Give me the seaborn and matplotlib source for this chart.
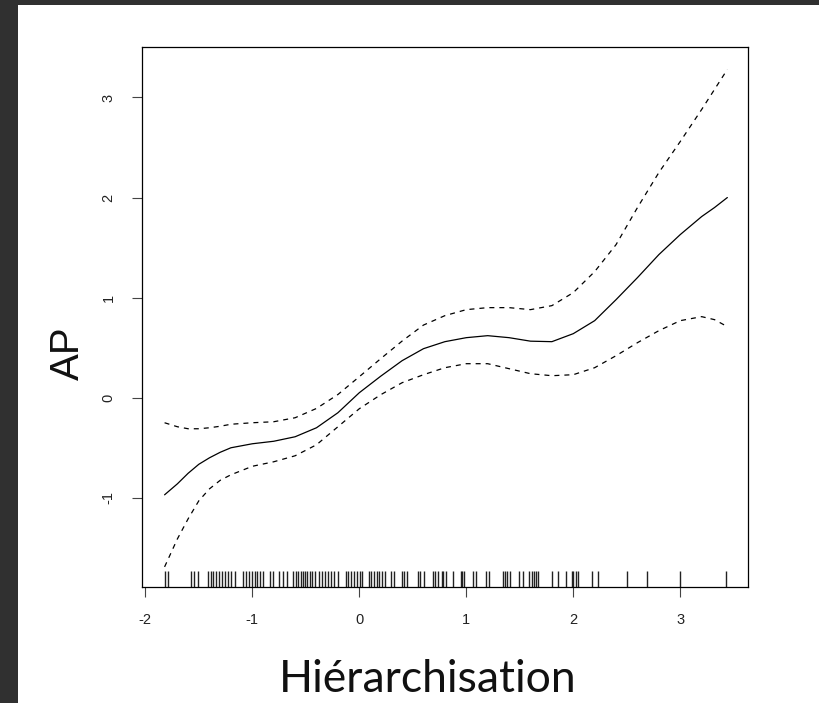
import numpy as np
import pandas as pd
import matplotlib
matplotlib.use("Agg")
import matplotlib.pyplot as plt
import seaborn as sns
from matplotlib.patches import Rectangle

# smooth term
x_grid = [-1.82, -1.7, -1.6, -1.5, -1.4, -1.3, -1.2, -1.0, -0.8, -0.6, -0.4, -0.2, 0.0, 0.2,
          0.4, 0.6, 0.8, 1.0, 1.2, 1.4, 1.6, 1.8, 2.0, 2.2, 2.4, 2.6, 2.8, 3.0, 3.2, 3.32, 3.44]
fit = [-0.97, -0.86, -0.755, -0.665, -0.60, -0.545, -0.50, -0.46, -0.435, -0.39, -0.30, -0.15,
       0.05, 0.215, 0.37, 0.49, 0.56, 0.60, 0.62, 0.60, 0.565, 0.56, 0.64, 0.77, 0.98, 1.20,
       1.43, 1.63, 1.81, 1.90, 2.00]
upper = [-0.25, -0.29, -0.31, -0.31, -0.30, -0.285, -0.265, -0.25, -0.24, -0.20, -0.107, 0.032,
         0.21, 0.39, 0.566, 0.726, 0.82, 0.88, 0.90, 0.90, 0.88, 0.92, 1.05, 1.26, 1.53, 1.90,
         2.25, 2.56, 2.88, 3.08, 3.28]
lower = [-1.69, -1.41, -1.21, -1.03, -0.91, -0.825, -0.77, -0.685, -0.64, -0.58, -0.47, -0.29,
         -0.11, 0.03, 0.15, 0.23, 0.30, 0.34, 0.34, 0.29, 0.24, 0.22, 0.23, 0.30, 0.42, 0.55,
         0.67, 0.77, 0.81, 0.78, 0.71]

# observations (rug)
rug_x = [-1.819, -1.785, -1.570, -1.548, -1.505, -1.414, -1.389, -1.364, -1.339, -1.311,
         -1.286, -1.258, -1.230, -1.199, -1.159, -1.084, -1.059, -1.034, -1.003, -0.978,
         -0.953, -0.925, -0.897, -0.835, -0.804, -0.748, -0.716, -0.679, -0.617, -0.592,
         -0.570, -0.548, -0.526, -0.505, -0.489, -0.461, -0.445, -0.411, -0.379, -0.351,
         -0.321, -0.295, -0.267, -0.234, -0.202, -0.127, -0.103, -0.078, -0.047, -0.021,
         0.009, 0.022, 0.088, 0.112, 0.135, 0.163, 0.184, 0.209, 0.240, 0.296, 0.324,
         0.396, 0.421, 0.446, 0.546, 0.570, 0.605, 0.689, 0.710, 0.738, 0.770, 0.785,
         0.810, 0.879, 0.948, 0.960, 0.979, 1.060, 1.088, 1.181, 1.215, 1.340, 1.362,
         1.383, 1.408, 1.495, 1.527, 1.589, 1.611, 1.633, 1.651, 1.673, 1.798, 1.860,
         1.929, 1.985, 2.000, 2.022, 2.041, 2.172, 2.228, 2.499, 2.686, 2.997, 3.424]

x_ticks = [-2, -1, 0, 1, 2, 3]
y_ticks = [-1, 0, 1, 2, 3]

df = pd.DataFrame({"x": x_grid, "fit": fit, "upper": upper, "lower": lower})

sns.set_style("white")
plt.rcParams["font.family"] = ["Liberation Sans", "DejaVu Sans"]

W, H = 820, 703
fig = plt.figure(figsize=(W / 100, H / 100), dpi=100, facecolor="#303030")
fig.patches.append(Rectangle((18 / W, 0), 1, 1 - 5 / H, transform=fig.transFigure,
                             facecolor="white", edgecolor="none", zorder=-10))

ax = fig.add_axes([142 / W, 1 - 587 / H, (748 - 142) / W, (587 - 47) / H])
ax.set_zorder(5)
ax.set_facecolor("white")

sns.lineplot(data=df, x="x", y="fit", color="black", lw=0.9, sort=False, ax=ax)
sns.lineplot(data=df, x="x", y="upper", color="black", lw=0.9, sort=False,
             linestyle=(0, (4, 4)), ax=ax)
sns.lineplot(data=df, x="x", y="lower", color="black", lw=0.9, sort=False,
             linestyle=(0, (4, 4)), ax=ax)
sns.rugplot(x=rug_x, height=0.03, color="#222222", lw=0.9, ax=ax)

ax.set_xlim(-2.031, 3.633)
ax.set_ylim(-1.891, 3.504)
ax.set_xticks(x_ticks)
ax.set_yticks(y_ticks)
ax.set_xticklabels([str(t) for t in x_ticks])
ax.set_yticklabels([str(t) for t in y_ticks], rotation=90, va="center")
ax.tick_params(axis="both", direction="out", length=7, width=0.8, color="#444444",
               labelsize=10.5, labelcolor="#222222", pad=12, bottom=True, left=True)
ax.set_xlabel("")
ax.set_ylabel("")
for s in ax.spines.values():
    s.set_color("black")
    s.set_linewidth(0.9)

fig.text(428 / W, 1 - 692 / H, "Hiérarchisation", ha="center", va="baseline",
         fontsize=32, family=["Lato", "DejaVu Sans"], color="#111111")
fig.text(68 / W, 1 - 353 / H, "AP", ha="center", va="center", rotation=90,
         fontsize=29, family=["Liberation Sans", "DejaVu Sans"], color="#111111")

fig.savefig("out.png", dpi=100, facecolor=fig.get_facecolor())
